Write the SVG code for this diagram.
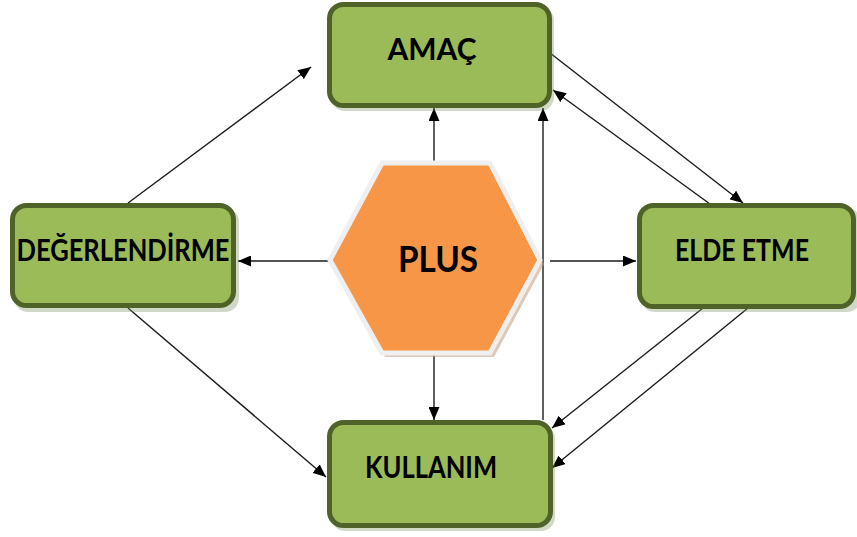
<svg xmlns="http://www.w3.org/2000/svg" width="857" height="537" viewBox="0 0 857 537">
<style>
.box{fill:#9BBB59;stroke:#4F6228;stroke-width:5}
.shadow{fill:#7f8f60;opacity:0.35}
.lbl{font-family:Lato,"Open Sans","Liberation Sans",sans-serif;font-weight:bold;font-size:30px;fill:#000;text-anchor:middle}
.conn line{stroke:#1a1a1a;stroke-width:1.4;marker-end:url(#ah)}
</style>
<defs>
<marker id="ah" markerWidth="13" markerHeight="11" refX="13" refY="5.5" orient="auto" markerUnits="userSpaceOnUse">
<path d="M0,0 L13,5.5 L0,11 Z" fill="#000"/>
</marker>
</defs>
<rect width="857" height="537" fill="#fff"/>
<g id="connectors" class="conn">
<line x1="434" y1="163" x2="434" y2="108"/>
<line x1="434" y1="353" x2="434" y2="420"/>
<line x1="330" y1="261" x2="238" y2="261"/>
<line x1="550" y1="261" x2="636" y2="261"/>
<line x1="543" y1="420" x2="543" y2="108"/>
<line x1="550" y1="53" x2="743" y2="203"/>
<line x1="710" y1="204" x2="553" y2="90"/>
<line x1="703" y1="308" x2="552" y2="428"/>
<line x1="748" y1="308" x2="552" y2="468"/>
<line x1="128" y1="203" x2="311" y2="67"/>
<line x1="128" y1="308" x2="326" y2="477"/>
</g>
<g id="amac">
<rect class="shadow" x="331" y="7" width="223" height="104" rx="14"/>
<rect class="box" x="329.5" y="4.5" width="220" height="101" rx="14"/>
<text class="lbl" x="432" y="60" textLength="89" lengthAdjust="spacingAndGlyphs">AMAÇ</text>
</g>
<g id="degerlendirme">
<rect class="shadow" x="14" y="208" width="225" height="104" rx="14"/>
<rect class="box" x="12.5" y="205.5" width="221" height="100" rx="14"/>
<text class="lbl" x="123" y="261" textLength="213" lengthAdjust="spacingAndGlyphs">DEĞERLENDİRME</text>
</g>
<g id="elde-etme">
<rect class="shadow" x="641" y="208" width="220" height="104" rx="14"/>
<rect class="box" x="639.5" y="205.5" width="214" height="101" rx="14"/>
<text class="lbl" x="742" y="261" textLength="134" lengthAdjust="spacingAndGlyphs">ELDE ETME</text>
</g>
<g id="kullanim">
<rect class="shadow" x="331" y="425" width="224" height="106" rx="14"/>
<rect class="box" x="329.5" y="422.5" width="221" height="103" rx="14"/>
<text class="lbl" x="431" y="478" textLength="132" lengthAdjust="spacingAndGlyphs">KULLANIM</text>
</g>
<g id="plus">
<polygon points="385,167 494,167 544,264 494,357 385,357 334,264" fill="#C9A585" opacity="0.6"/>
<polygon points="382,163 490,163 540,260 490,353 382,353 330,260" fill="#F79646" stroke="#EFEFEF" stroke-width="5" stroke-linejoin="miter"/>
<text x="438" y="272" textLength="80" lengthAdjust="spacingAndGlyphs" style="font-family:Lato,'Open Sans','Liberation Sans',sans-serif;font-weight:bold;font-size:36px;fill:#000;text-anchor:middle">PLUS</text>
</g>
</svg>
